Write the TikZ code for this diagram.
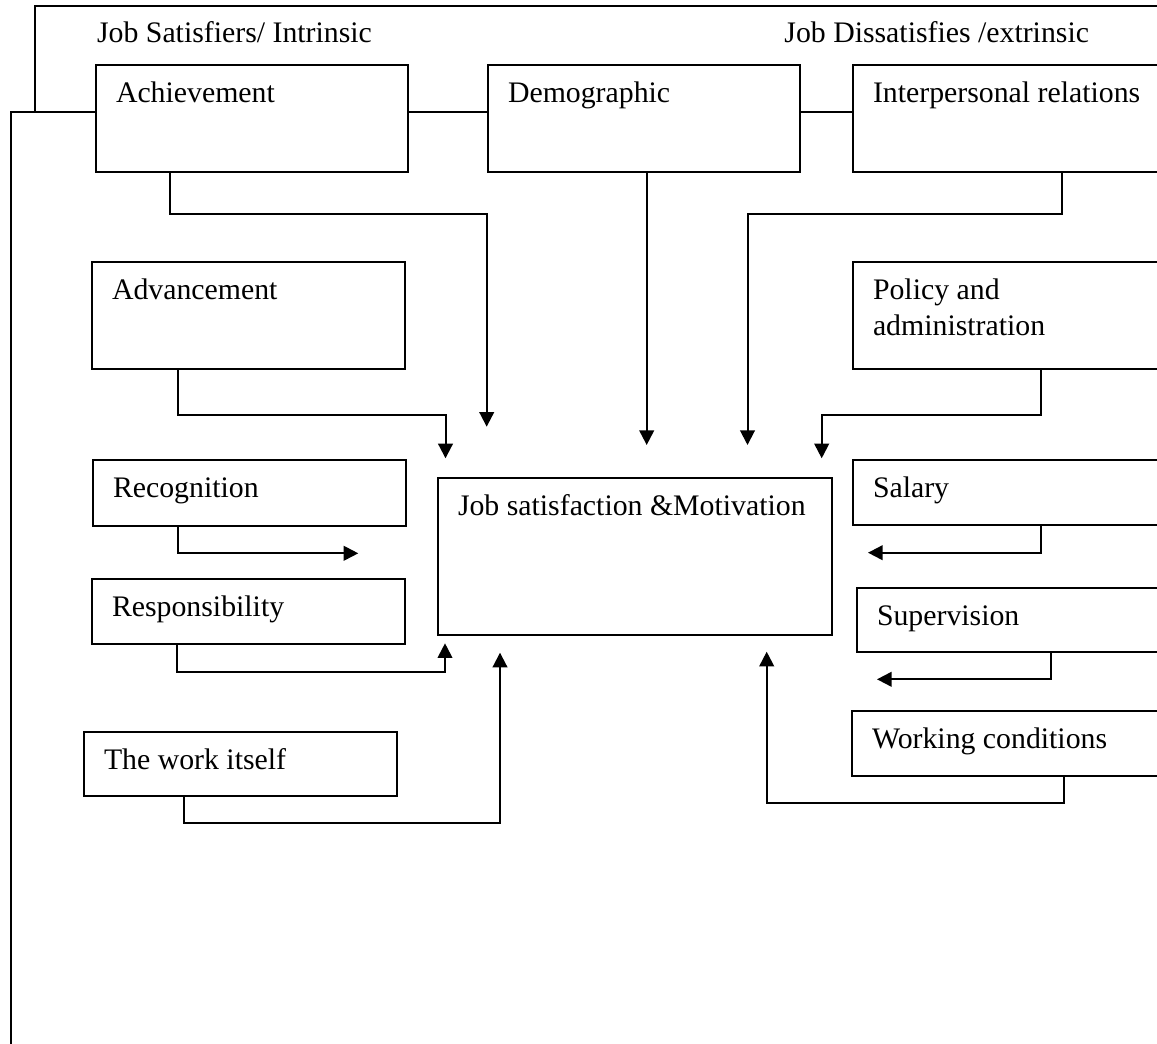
\documentclass[tikz,border=0pt]{standalone}
\usepackage{fontspec}
\setmainfont{Liberation Serif}
\usetikzlibrary{arrows.meta}
\usetikzlibrary{calc}

\begin{document}
\begin{tikzpicture}[x=0.5pt, y=-0.5pt,
	box/.style={draw, line width=1pt, anchor=north west, inner xsep=10pt, inner ysep=0pt, align=flush left, text height=18.75pt, font=\fontsize{14.9}{18}\selectfont},
	title/.style={anchor=base west, inner sep=0pt, font=\fontsize{14.9}{18}\selectfont},
	frame/.style={line width=1pt},
	link/.style={line width=1pt, -{Triangle[length=7.3pt,width=7.3pt]}}]
	\useasboundingbox (0,0) rectangle (1157,1044);
	\clip (0,0) rectangle (1157,1044);

	\node[title] (tsat) at (96.7,42.3) {Job Satisfiers/ Intrinsic};
	\node[title] (tdis) at (784,42.3) {Job Dissatisfies /extrinsic};

	\node[box, text width=136pt, text depth=34.75pt] (ach) at (95,64) {Achievement};
	\node[box, text width=136pt, text depth=34.75pt] (dem) at (487,64) {Demographic};
	\node[box, text width=149pt, text depth=34.75pt] (inter) at (852,64) {Interpersonal relations};
	\node[box, text width=136.5pt, text depth=34.75pt] (adv) at (91,261) {Advancement};
	\node[box, text width=149pt, text depth=34.75pt] (pol) at (852,261) {Policy and\\administration};
	\node[box, text width=136.5pt, text depth=14.25pt] (rec) at (92,459) {Recognition};
	\node[box, text width=177pt, text depth=60pt] (job) at (437,476.5) {Job satisfaction \&Motivation};
	\node[box, text width=149pt, text depth=13.75pt] (sal) at (852,459) {Salary};
	\node[box, text width=136.5pt, text depth=13.75pt] (res) at (91,578) {Responsibility};
	\node[box, text width=147pt, text depth=13.25pt] (sup) at (856,587) {Supervision};
	\node[box, text width=136.5pt, text depth=13.25pt] (work) at (83,731) {The work itself};
	\node[box, text width=150pt, text depth=13.75pt] (wc) at (851,709.5) {Working conditions};

	\coordinate (mid) at (0,112);
	\draw[frame] (35,112) -- (35,6) -- (1170,6);
	\draw[frame] (11,1060) -- (11,112) -- (ach.west |- mid);
	\draw[frame] (ach.east |- mid) -- (dem.west |- mid);
	\draw[frame] (dem.east |- mid) -- (inter.west |- mid);

	\coordinate (tach) at (486.7,426.7);
	\coordinate (tdem) at (646.7,445);
	\coordinate (tint) at (747.5,445);
	\coordinate (tadv) at (445.5,458.3);
	\coordinate (tpol) at (821.7,458.3);
	\coordinate (trec) at (358.3,553.3);
	\coordinate (tsal) at (868,552.7);
	\coordinate (tres) at (445,643.3);
	\coordinate (tsup) at (877,679.3);
	\coordinate (twork) at (500,652.7);
	\coordinate (twc) at (766.7,651.7);

	\draw[link] ($(ach.south west)+(75,0)$) |- (486.7,214) -- (tach);
	\draw[link] (dem.south -| tdem) -- (tdem);
	\draw[link] ($(inter.south west)+(210,0)$) |- (747.5,214) -- (tint);
	\draw[link] ($(adv.south west)+(87,0)$) |- (445.5,415) -- (tadv);
	\draw[link] ($(pol.south west)+(189,0)$) |- (821.7,415) -- (tpol);
	\draw[link] ($(rec.south west)+(85.5,0)$) |- (trec);
	\draw[link] ($(sal.south west)+(189,0)$) |- (tsal);
	\draw[link] ($(res.south west)+(86,0)$) |- (445,671.7) -- (tres);
	\draw[link] ($(sup.south west)+(194.5,0)$) |- (tsup);
	\draw[link] ($(work.south west)+(101,0)$) |- (500,823.3) -- (twork);
	\draw[link] ($(wc.south west)+(212.5,0)$) |- (766.7,803.3) -- (twc);
\end{tikzpicture}
\end{document}
